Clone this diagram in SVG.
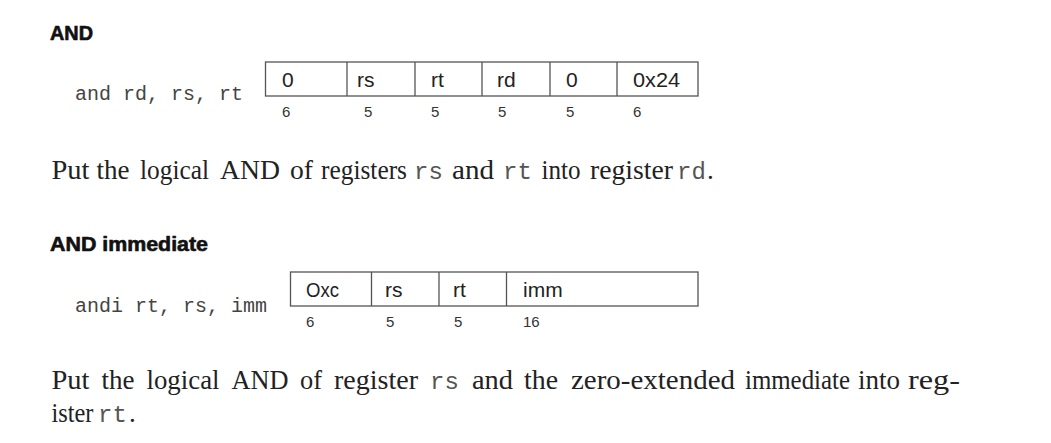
<svg xmlns="http://www.w3.org/2000/svg" width="1051" height="443" viewBox="0 0 1051 443">
<style>
.bg{fill:#ffffff}
.head{font-family:"Liberation Sans",Arial,sans-serif;font-weight:bold;font-size:19.5px;fill:#111;stroke:#111;stroke-width:0.6;paint-order:stroke}
.mn{font-family:"Liberation Mono","DejaVu Sans Mono",monospace;font-size:20px;fill:#444}
.box{fill:#fff;stroke:#555;stroke-width:1.3}
.div{stroke:#555;stroke-width:1.3}
.fld{font-family:"Liberation Sans",Arial,sans-serif;font-size:21px;fill:#222}
.bits{font-family:"Liberation Sans",Arial,sans-serif;font-size:15px;fill:#333}
.para{font-family:"Liberation Serif","Times New Roman",serif;font-size:27px;fill:#222}
.pm{font-family:"Liberation Mono","DejaVu Sans Mono",monospace;font-size:24px;fill:#555}
</style>
<rect class="bg" x="0" y="0" width="1051" height="443"/>

<g id="and-section">
  <text class="head" x="50" y="40" textLength="43" lengthAdjust="spacingAndGlyphs">AND</text>
  <text class="mn" x="75" y="100">and rd, rs, rt</text>
</g>

<g id="and-format">
  <rect class="box" x="265.5" y="62" width="432.5" height="34"/>
  <line class="div" x1="347" y1="62" x2="347" y2="96"/>
  <line class="div" x1="415" y1="62" x2="415" y2="96"/>
  <line class="div" x1="482" y1="62" x2="482" y2="96"/>
  <line class="div" x1="550" y1="62" x2="550" y2="96"/>
  <line class="div" x1="617" y1="62" x2="617" y2="96"/>
  <g id="and-op"><text class="fld" x="282" y="86.5">0</text><text class="bits" x="282" y="116.5">6</text></g>
  <g id="and-rs"><text class="fld" x="357" y="86.5">rs</text><text class="bits" x="364" y="116.5">5</text></g>
  <g id="and-rt"><text class="fld" x="431" y="86.5">rt</text><text class="bits" x="431" y="116.5">5</text></g>
  <g id="and-rd"><text class="fld" x="497" y="86.5">rd</text><text class="bits" x="498" y="116.5">5</text></g>
  <g id="and-shamt"><text class="fld" x="566" y="86.5">0</text><text class="bits" x="566" y="116.5">5</text></g>
  <g id="and-funct"><text class="fld" x="633" y="86.5" textLength="47" lengthAdjust="spacingAndGlyphs">0x24</text><text class="bits" x="633" y="116.5">6</text></g>
</g>

<g id="and-desc">
  <text class="para" x="51.5" y="178.5" textLength="38" lengthAdjust="spacingAndGlyphs">Put</text>
  <text class="para" x="96.5" y="178.5" textLength="33" lengthAdjust="spacingAndGlyphs">the</text>
  <text class="para" x="140" y="178.5" textLength="69" lengthAdjust="spacingAndGlyphs">logical</text>
  <text class="para" x="220" y="178.5" textLength="60" lengthAdjust="spacingAndGlyphs">AND</text>
  <text class="para" x="290" y="178.5" textLength="23" lengthAdjust="spacingAndGlyphs">of</text>
  <text class="para" x="321" y="178.5" textLength="86" lengthAdjust="spacingAndGlyphs">registers</text>
  <text class="pm" x="414" y="178.5">rs</text>
  <text class="para" x="452" y="178.5" textLength="42" lengthAdjust="spacingAndGlyphs">and</text>
  <text class="pm" x="503" y="178.5">rt</text>
  <text class="para" x="541.5" y="178.5" textLength="39" lengthAdjust="spacingAndGlyphs">into</text>
  <text class="para" x="590" y="178.5" textLength="83" lengthAdjust="spacingAndGlyphs">register</text>
  <text class="pm" x="677" y="178.5">rd</text>
  <text class="para" x="707" y="178.5">.</text>
</g>

<g id="andi-section">
  <text class="head" x="50" y="250.5" textLength="158" lengthAdjust="spacingAndGlyphs">AND immediate</text>
  <text class="mn" x="75" y="311.5">andi rt, rs, imm</text>
</g>

<g id="andi-format">
  <rect class="box" x="290.5" y="272" width="407.5" height="34"/>
  <line class="div" x1="371.5" y1="272" x2="371.5" y2="306"/>
  <line class="div" x1="439" y1="272" x2="439" y2="306"/>
  <line class="div" x1="506.5" y1="272" x2="506.5" y2="306"/>
  <g id="andi-op"><text class="fld" x="306" y="296.5" textLength="33" lengthAdjust="spacingAndGlyphs">Oxc</text><text class="bits" x="306" y="326.5">6</text></g>
  <g id="andi-rs"><text class="fld" x="385" y="296.5">rs</text><text class="bits" x="386" y="326.5">5</text></g>
  <g id="andi-rt"><text class="fld" x="453" y="296.5">rt</text><text class="bits" x="454" y="326.5">5</text></g>
  <g id="andi-imm"><text class="fld" x="523" y="296.5">imm</text><text class="bits" x="523" y="326.5">16</text></g>
</g>

<g id="andi-desc">
  <text class="para" x="51.5" y="388.5" textLength="38" lengthAdjust="spacingAndGlyphs">Put</text>
  <text class="para" x="101.5" y="388.5" textLength="33" lengthAdjust="spacingAndGlyphs">the</text>
  <text class="para" x="146.5" y="388.5" textLength="73" lengthAdjust="spacingAndGlyphs">logical</text>
  <text class="para" x="231.5" y="388.5" textLength="57" lengthAdjust="spacingAndGlyphs">AND</text>
  <text class="para" x="300" y="388.5" textLength="22" lengthAdjust="spacingAndGlyphs">of</text>
  <text class="para" x="334" y="388.5" textLength="84" lengthAdjust="spacingAndGlyphs">register</text>
  <text class="pm" x="430" y="388.5">rs</text>
  <text class="para" x="472" y="388.5" textLength="41" lengthAdjust="spacingAndGlyphs">and</text>
  <text class="para" x="524" y="388.5" textLength="34" lengthAdjust="spacingAndGlyphs">the</text>
  <text class="para" x="571" y="388.5" textLength="164" lengthAdjust="spacingAndGlyphs">zero-extended</text>
  <text class="para" x="745" y="388.5" textLength="105" lengthAdjust="spacingAndGlyphs">immediate</text>
  <text class="para" x="858" y="388.5" textLength="42" lengthAdjust="spacingAndGlyphs">into</text>
  <text class="para" x="908" y="388.5" textLength="52" lengthAdjust="spacingAndGlyphs">reg-</text>
  <text class="para" x="51.5" y="421.5" textLength="42" lengthAdjust="spacingAndGlyphs">ister</text>
  <text class="pm" x="98" y="421.5">rt</text>
  <text class="para" x="129" y="421.5">.</text>
</g>
</svg>
